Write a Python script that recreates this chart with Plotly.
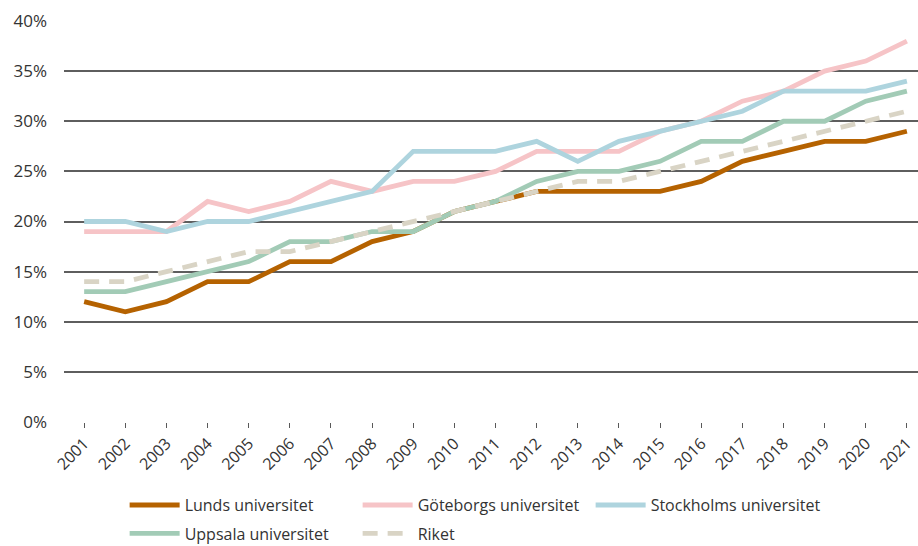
import plotly.graph_objects as go

years = [str(y) for y in range(2001, 2022)]

lund = [12, 11, 12, 14, 14, 16, 16, 18, 19, 21, 22, 23, 23, 23, 23, 24, 26, 27, 28, 28, 29]
goteborg = [19, 19, 19, 22, 21, 22, 24, 23, 24, 24, 25, 27, 27, 27, 29, 30, 32, 33, 35, 36, 38]
stockholm = [20, 20, 19, 20, 20, 21, 22, 23, 27, 27, 27, 28, 26, 28, 29, 30, 31, 33, 33, 33, 34]
uppsala = [13, 13, 14, 15, 16, 18, 18, 19, 19, 21, 22, 24, 25, 25, 26, 28, 28, 30, 30, 32, 33]
riket = [14, 14, 15, 16, 17, 17, 18, 19, 20, 21, 22, 23, 24, 24, 25, 26, 27, 28, 29, 30, 31]

# name, values, colour, dash, which legend row
series = [
    ("Lunds universitet", lund, "#b56200", None, "legend"),
    ("Göteborgs universitet", goteborg, "#f6c4c7", None, "legend"),
    ("Stockholms universitet", stockholm, "#aed4de", None, "legend"),
    ("Uppsala universitet", uppsala, "#a2cbb6", None, "legend2"),
    ("Riket", riket, "#d9d4c5", "15px,10px", "legend2"),
]

fig = go.Figure()
for name, vals, color, dash, leg in series:
    fig.add_trace(go.Scatter(
        x=years, y=[v / 100 for v in vals], name=name, mode="lines",
        line=dict(color=color, width=4.8, dash=dash),
        legend=leg,
    ))

legend_common = dict(
    orientation="h",
    x=0.071,
    xanchor="left",
    yref="container",
    yanchor="top",
    entrywidth=168,
    entrywidthmode="pixels",
    itemwidth=50,
    font=dict(family="Open Sans", size=16, color="#333333"),
    bgcolor="rgba(0,0,0,0)",
)

fig.update_layout(
    width=918,
    height=546,
    margin=dict(l=64, r=0, t=21, b=124),
    paper_bgcolor="white",
    plot_bgcolor="white",
    font=dict(family="Open Sans", size=16, color="#333333"),
    legend=dict(legend_common, y=0.106),
    legend2=dict(legend_common, y=0.054),
)

fig.update_xaxes(
    type="category",
    range=[-0.49, 20.27],
    showgrid=False,
    ticks="outside",
    ticklen=5,
    tickcolor="#595959",
    tickangle=-45,
    tickfont=dict(size=16),
    showline=False,
    zeroline=False,
    automargin=False,
)

fig.update_yaxes(
    range=[0, 0.4],
    dtick=0.05,
    tickformat=".0%",
    tickfont=dict(size=17),
    showgrid=True,
    gridcolor="#5e5e5e",
    gridwidth=1.5,
    zeroline=False,
    showline=False,
    ticks="",
    ticklabelstandoff=16,
    automargin=False,
)

# page body has a default 8px margin; drop it so the figure fills the window
fig.write_html(
    "out.html",
    config={"displayModeBar": False},
    post_script="document.body.style.margin='0';",
)
